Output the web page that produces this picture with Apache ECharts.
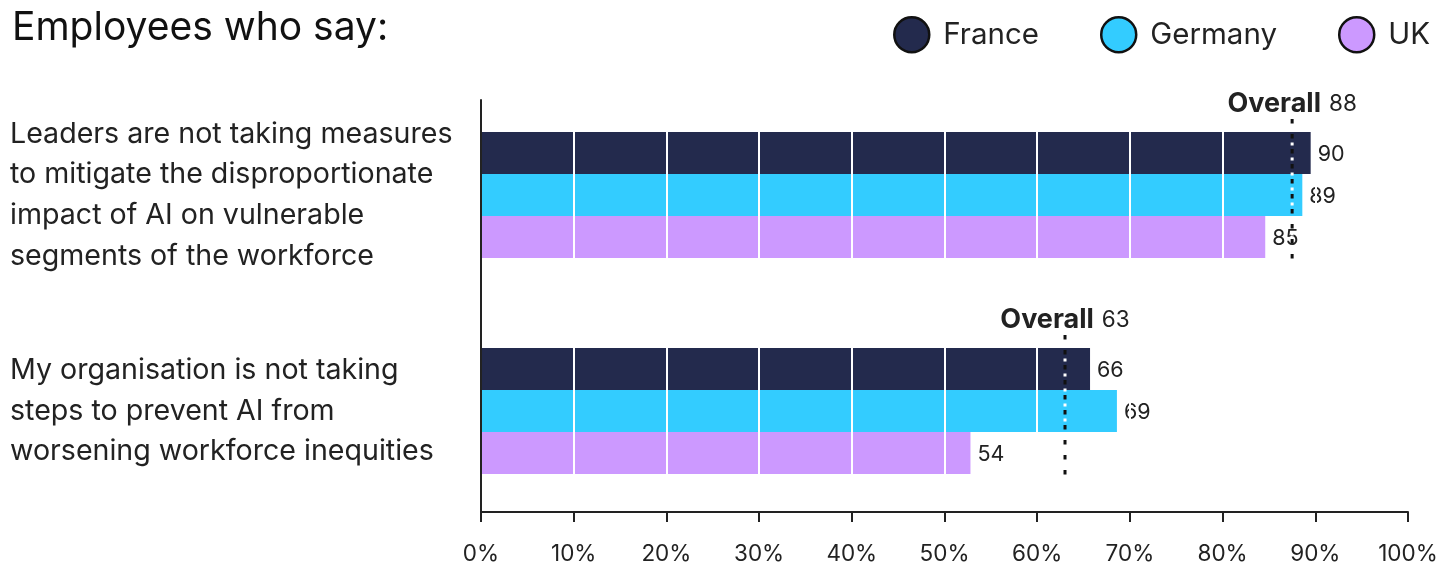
<!DOCTYPE html>
<html>
<head>
<meta charset="utf-8">
<script src="https://cdn.jsdelivr.net/npm/echarts@6/dist/echarts.min.js"></script>
<style>
html,body{margin:0;padding:0;background:#fff;}
#chart{width:1455px;height:567px;}
</style>
</head>
<body>
<div id="chart"></div>
<script>
const categories = [
  'Leaders are not taking measures\nto mitigate the disproportionate\nimpact of AI on vulnerable\nsegments of the workforce',
  'My organisation is not taking\nsteps to prevent AI from\nworsening workforce inequities'
];
const seriesNames = ['France', 'Germany', 'UK'];
const franceValues = [89.5, 65.7];
const germanyValues = [88.6, 68.6];
const ukValues = [84.6, 52.8];
const franceLabels = [90, 66];
const germanyLabels = [89, 69];
const ukLabels = [85, 54];
const overallValues = [87.5, 63];
const overallLabels = [88, 63];
const xTicks = [0, 10, 20, 30, 40, 50, 60, 70, 80, 90, 100];

const colors = ['#232a4d', '#33ccff', '#cc99ff'];
const FONT = 'Inter';
const TXT = '#222';

const chart = echarts.init(document.getElementById('chart'), null, {renderer: 'canvas'});

function barSeries(name, values, labels, color) {
  return {
    name: name,
    type: 'bar',
    xAxisIndex: 0,
    yAxisIndex: 0,
    data: values,
    barWidth: 42,
    barGap: '0%',
    itemStyle: {color: color},
    label: {
      show: true,
      position: 'right',
      distance: 7,
      offset: [0, 2],
      color: TXT,
      fontFamily: FONT,
      fontSize: 21.5,
      formatter: p => String(labels[p.dataIndex])
    },
    z: 2
  };
}

const option = {
  backgroundColor: '#fff',
  animation: false,
  textStyle: {fontFamily: FONT},
  title: {
    text: 'Employees who say:',
    left: 7,
    top: 4,
    textStyle: {fontFamily: FONT, fontSize: 39, fontWeight: 'normal', color: '#111'}
  },
  legend: {
    data: seriesNames,
    right: 20,
    top: 11,
    icon: 'circle',
    itemWidth: 35,
    itemHeight: 35,
    itemGap: 61,
    textStyle: {fontFamily: FONT, fontSize: 29.5, color: TXT, padding: [0, 0, 0, 9]},
    itemStyle: {borderColor: '#111', borderWidth: 2.5}
  },
  grid: [
    {left: 481, right: 47, top: 87, height: 432},
    {left: 481, right: 47, top: 100, bottom: 55}
  ],
  xAxis: [
    {
      gridIndex: 0, type: 'value', min: xTicks[0], max: xTicks[xTicks.length - 1], interval: 10,
      axisLine: {show: false}, axisTick: {show: false}, axisLabel: {show: false},
      splitLine: {show: true, lineStyle: {color: '#ffffff', width: 2}},
      z: 3
    },
    {
      gridIndex: 1, type: 'value', min: xTicks[0], max: xTicks[xTicks.length - 1], interval: 10,
      axisLine: {show: true, onZero: false, lineStyle: {color: TXT, width: 2}},
      axisTick: {show: true, length: 10, lineStyle: {color: TXT, width: 2}},
      axisLabel: {show: true, margin: 31, color: TXT, fontFamily: FONT, fontSize: 22.5, formatter: '{value}%'},
      splitLine: {show: false},
      z: 5
    }
  ],
  yAxis: [
    {
      gridIndex: 0, type: 'category', data: categories, inverse: true,
      axisLine: {show: false}, axisTick: {show: false},
      axisLabel: {
        show: true, margin: 471, align: 'left', color: TXT, fontFamily: FONT,
        fontSize: 28.6, lineHeight: 40.6
      }
    },
    {
      gridIndex: 1, type: 'value', min: 0, max: 1, position: 'left',
      axisLine: {show: true, onZero: false, lineStyle: {color: TXT, width: 2}},
      axisTick: {show: false}, axisLabel: {show: false}, splitLine: {show: false},
      z: 5
    }
  ],
  series: [
    barSeries(seriesNames[0], franceValues, franceLabels, colors[0]),
    barSeries(seriesNames[1], germanyValues, germanyLabels, colors[1]),
    barSeries(seriesNames[2], ukValues, ukLabels, colors[2]),
    {
      type: 'custom',
      xAxisIndex: 0,
      yAxisIndex: 0,
      z: 10,
      data: overallValues.map((v, i) => [v, i]),
      encode: {x: 0, y: 1},
      renderItem: function (params, api) {
        const pt = api.coord([api.value(0), api.value(1)]);
        const bh = api.size([0, 1])[1];
        const lbl = overallLabels[params.dataIndex];
        const shape = {x1: pt[0], y1: pt[1] - 0.352 * bh, x2: pt[0], y2: pt[1] + 0.33 * bh};
        return {
          type: 'group',
          children: [
            {
              type: 'line',
              shape: shape,
              style: {stroke: '#ffffff', lineWidth: 3, lineDash: [3, 12], lineDashOffset: -8.5}
            },
            {
              type: 'line',
              shape: shape,
              style: {stroke: '#111', lineWidth: 3, lineDash: [4.5, 10.5]}
            },
            {
              type: 'text',
              x: pt[0],
              y: pt[1] - 0.42 * bh,
              style: {
                text: '{b|Overall}{n|' + lbl + '}',
                align: 'center',
                verticalAlign: 'middle',
                rich: {
                  b: {fontFamily: FONT, fontSize: 27, fontWeight: 'bold', fill: TXT, color: TXT},
                  n: {fontFamily: FONT, fontSize: 22.5, fill: TXT, color: TXT, padding: [0, 0, 0, 8]}
                }
              }
            }
          ]
        };
      }
    },
    {
      type: 'line',
      xAxisIndex: 1,
      yAxisIndex: 1,
      data: [],
      silent: true
    }
  ]
};

chart.setOption(option);
</script>
</body>
</html>
